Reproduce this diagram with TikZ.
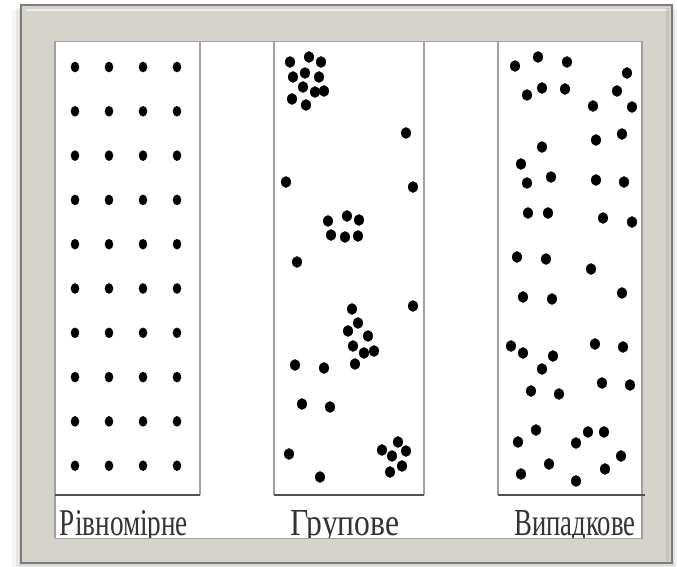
\documentclass[tikz,border=0pt]{standalone}
\usepackage{fontspec}
\setmainfont{Liberation Serif}
\definecolor{framegray}{RGB}{213,211,203}
\definecolor{frameedge}{RGB}{125,125,120}
\definecolor{sidegray}{RGB}{160,160,160}
\definecolor{basegray}{RGB}{80,80,80}
\tikzset{
  sideline/.style={draw=sidegray, line width=1.6pt},
  baseline/.style={draw=basegray, line width=2.8pt},
  smalldot/.style={fill=black},
  label/.style={anchor=base, inner sep=0pt, text=black!80}
}
\begin{document}
\begin{tikzpicture}[x=1pt,y=-1pt]
\useasboundingbox (0,0) rectangle (677,567);
\fill[white] (0,0) rectangle (677,567);
% soft shadow
\fill[black, opacity=0.04] (12,10) rectangle (677,567);
\fill[black, opacity=0.05] (16,8) rectangle (675,567);
\fill[black, opacity=0.06] (19,6) rectangle (674,566);
% inner white area
\fill[white] (55,41) rectangle (642,538);
% panel 1 dots
\foreach \x in {75,109,143,177}
  \foreach \i in {0,...,9}
    \fill[smalldot] (\x,{67+44.3*\i}) ellipse [x radius=4.3pt, y radius=5.3pt];
% panel 2 dots
\foreach \p in {(290,62),(309,57),(321,62),(293,77),(305,73),(319,77),(303,87),(315,92),(324,91),(292,99),(306,105),
(406,133),(286,182),(413,187),
(328,221),(347,216),(359,220),(331,235),(345,237),(358,236),
(297,262),(413,306),
(352,309),(358,323),(348,331),(368,336),(353,346),(364,353),(374,351),(355,364),
(295,365),(324,368),(302,404),(330,407),(289,454),(320,477),
(398,442),(382,450),(406,451),(392,456),(402,466),(390,472)}
  \fill[smalldot] \p ellipse [x radius=5pt, y radius=5.8pt];
% panel 3 dots
\foreach \p in {(515,66),(538,57),(567,62),(627,73),(527,95),(542,88),(565,89),(617,91),(593,106),(632,107),(622,134),(596,140),(542,147),(521,164),(527,183),(551,177),(596,180),(624,182),
(528,213),(548,213),(603,218),(632,222),(517,257),(546,259),(591,269),(523,297),(552,299),(622,293),
(511,346),(523,353),(553,356),(542,369),(595,344),(623,347),(531,391),(559,394),(602,383),(630,385),(536,430),(518,442),(576,443),(588,432),(604,432),(621,456),(549,464),(521,474),(576,481),(605,469)}
  \fill[smalldot] \p ellipse [x radius=5pt, y radius=5.8pt];
% labels
\node[label] (l1) at (124,535) {\resizebox{128pt}{25pt}{Рівномірне}};
\node[label] (l2) at (345,535) {\resizebox{109pt}{25pt}{Групове}};
\node[label] (l3) at (575,535) {\resizebox{121pt}{25pt}{Випадкове}};
% frame
\fill[framegray, even odd rule] (21,5) rectangle (672,563) (55,41) rectangle (642,538);
\draw[white, opacity=0.6, line width=1.5pt] (26,10) -- (668,10);
\draw[black, opacity=0.08, line width=3pt] (667,8) -- (667,561);
\draw[frameedge, line width=1.2pt] (21,5) rectangle (672,563);
\draw[sidegray, line width=0.8pt] (55,41) rectangle (642,538);
% panel lines
\draw[sideline] (55,41) -- (55,538);
\draw[sideline] (200,41) -- (200,495);
\draw[sideline] (274,41) -- (274,495);
\draw[sideline] (424,41) -- (424,495);
\draw[sideline] (498,41) -- (498,495);
\draw[sideline] (642,41) -- (642,538);
\draw[baseline] (55,495) -- (200,495);
\draw[baseline] (274,495) -- (424,495);
\draw[baseline] (498,495) -- (645,495);
\end{tikzpicture}
\end{document}
